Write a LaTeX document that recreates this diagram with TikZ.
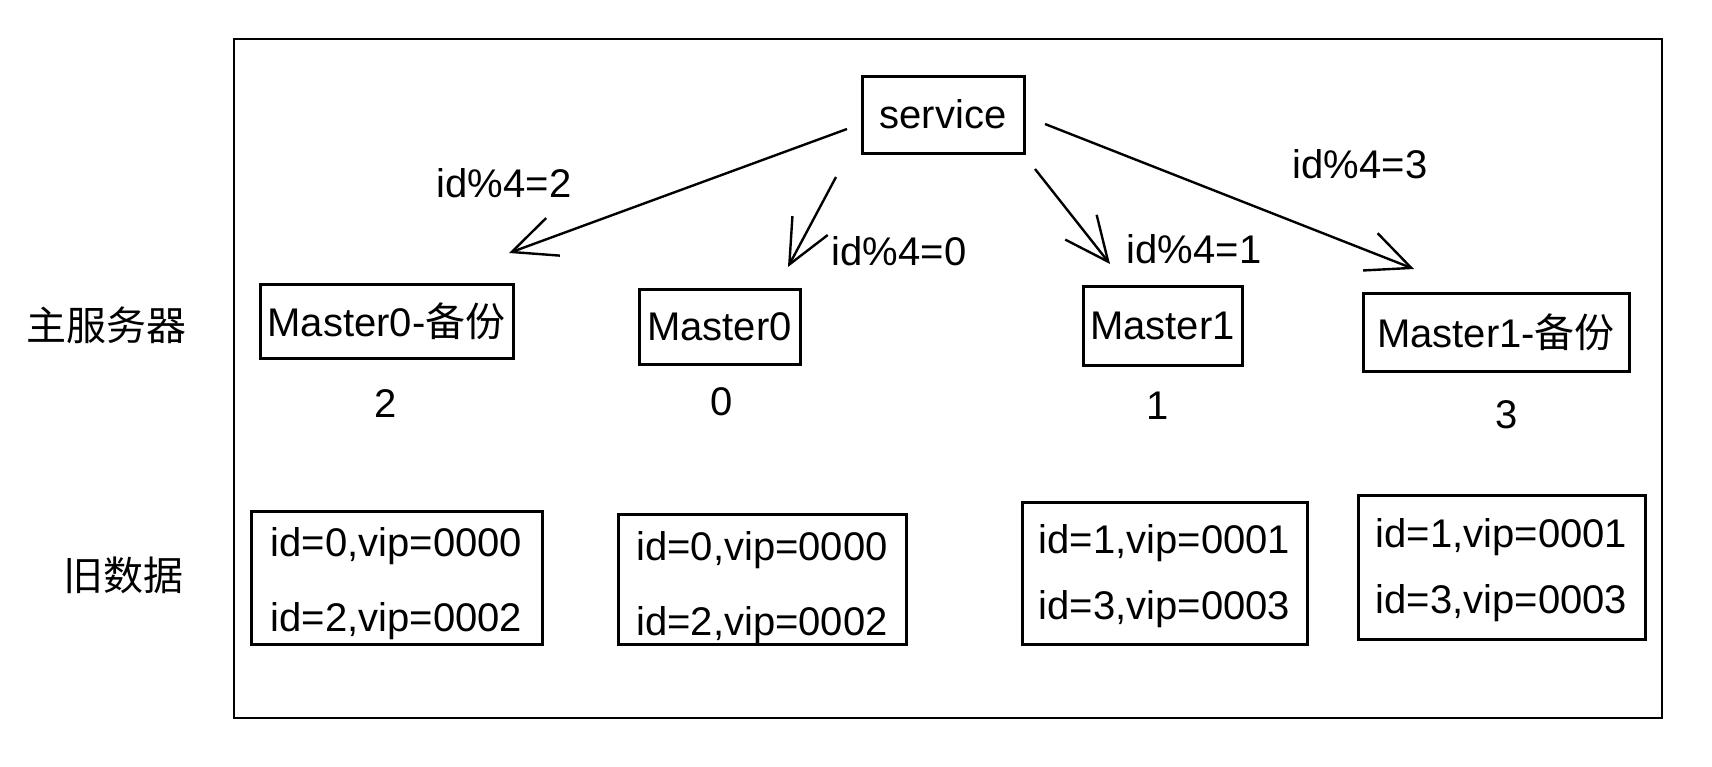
\documentclass[tikz,border=0pt]{standalone}
\usepackage{fontspec}
\setmainfont{Liberation Sans}
\newfontfamily\cjk{Noto Sans CJK SC}
\usetikzlibrary{arrows.meta}
\begin{document}
\begin{tikzpicture}[x=1pt,y=-1pt,
  txt/.style={font=\fontsize{40}{48}\selectfont, inner sep=0pt},
  box/.style={draw, line width=3pt, font=\fontsize{40}{48}\selectfont, inner sep=0pt},
  databox/.style={draw, line width=3pt, inner sep=0pt, align=center},
  conn/.style={line width=2.4pt, -{Straight Barb[length=44pt,width=40pt,line width=2.4pt]}}
]
\useasboundingbox (0,0) rectangle (1712,766);
% frame
\node[draw, line width=2.6pt, minimum width=1428pt, minimum height=679pt, inner sep=0pt] (frame) at (948,378.5) {};

% row labels
\node[txt] (lmain) at (106,325) {\cjk 主服务器};
\node[txt] (lold) at (123,575) {\cjk 旧数据};

% service
\node[box, minimum width=162pt, minimum height=77pt] (service) at (943,114.5) {service};

% masters
\node[box, minimum width=253pt, minimum height=74pt] (m0b) at (386.5,321) {Master0-{\cjk 备份}};
\node[box, minimum width=161pt, minimum height=75pt] (m0) at (719.5,326.5) {Master0};
\node[box, minimum width=159pt, minimum height=79pt] (m1) at (1162.5,325.5) {Master1};
\node[box, minimum width=266pt, minimum height=78pt] (m1b) at (1496,332) {Master1-{\cjk 备份}};

% numbers
\node[txt] (n2) at (386,404) {2};
\node[txt] (n0) at (722,402) {0};
\node[txt] (n1) at (1158,406) {1};
\node[txt] (n3) at (1507,415) {3};

% data boxes
\node[databox, minimum width=291pt, minimum height=133pt, font=\fontsize{40}{75}\selectfont] (d0b) at (396.5,577.5) {\rule{0pt}{42pt}id=0,vip=0000\\id=2,vip=0002};
\node[databox, minimum width=288pt, minimum height=130pt, font=\fontsize{40}{75}\selectfont] (d0) at (762,579) {\rule{0pt}{46pt}id=0,vip=0000\\id=2,vip=0002};
\node[databox, minimum width=285pt, minimum height=142pt, font=\fontsize{40}{66}\selectfont] (d1) at (1164.5,573) {\rule{0pt}{36pt}id=1,vip=0001\\id=3,vip=0003};
\node[databox, minimum width=287pt, minimum height=144pt, font=\fontsize{40}{66}\selectfont] (d1b) at (1501.5,567) {\rule{0pt}{36pt}id=1,vip=0001\\id=3,vip=0003};

% arrow endpoints
\coordinate (a2s) at (847,129);
\coordinate (a2e) at (509,253);
\coordinate (a0s) at (836,177);
\coordinate (a0e) at (788,267);
\coordinate (a1s) at (1035,169);
\coordinate (a1e) at (1110,264);
\coordinate (a3s) at (1045,124);
\coordinate (a3e) at (1414,269);

\draw[conn] (a2s) -- (a2e);
\draw[conn] (a0s) -- (a0e);
\draw[conn] (a1s) -- (a1e);
\draw[conn] (a3s) -- (a3e);

% arrow labels
\node[txt] (l2) at (504,183) {id\%4=2};
\node[txt] (l0) at (899,251) {id\%4=0};
\node[txt] (l1) at (1194,249) {id\%4=1};
\node[txt] (l3) at (1360,164) {id\%4=3};
\end{tikzpicture}
\end{document}
